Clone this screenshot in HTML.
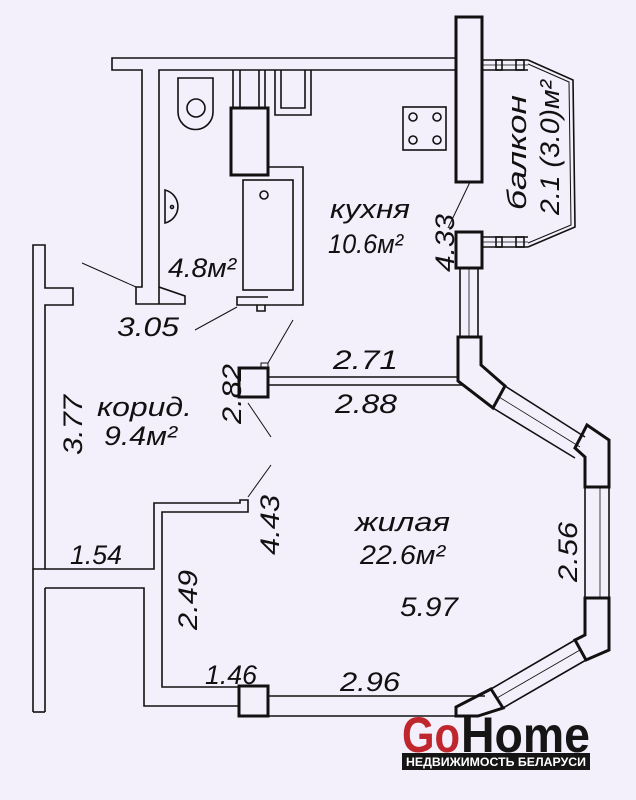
<!DOCTYPE html>
<html><head><meta charset="utf-8"><style>
html,body{margin:0;padding:0;background:#f3f0fb;}
svg{display:block}
text{font-family:"Liberation Sans",sans-serif;font-style:italic;fill:#111;}
</style></head><body>
<svg width="636" height="800" viewBox="0 0 636 800" xmlns="http://www.w3.org/2000/svg">
<rect width="636" height="800" fill="#f3f0fb"/>
<g fill="none" stroke="#111" stroke-width="1.6">
<polygon points="112,58 456,58 456,70 159,70 159,287 185,296 185,304 136,304 136,287 142,287 142,70 112,70" fill="#f3f0fb"/>
<line x1="159" y1="287" x2="159" y2="304"/>
<line x1="482" y1="60" x2="528" y2="60"/><line x1="482" y1="70" x2="528" y2="70"/><line x1="482" y1="65" x2="528" y2="65" stroke-width="0.8"/>
<rect x="496" y="60" width="6" height="10"/><rect x="516" y="60" width="8" height="10"/>
<line x1="482" y1="237" x2="528" y2="237"/><line x1="482" y1="247" x2="528" y2="247"/><line x1="482" y1="242" x2="528" y2="242" stroke-width="0.8"/>
<rect x="496" y="237" width="6" height="10"/><rect x="516" y="237" width="8" height="10"/>
<polyline points="528,60 573,80 575,227 528,247"/>
<polyline points="528,64 569,82 571,225 528,243" stroke-width="1"/>
<line x1="233" y1="70" x2="233" y2="108"/><line x1="240" y1="70" x2="240" y2="108"/>
<line x1="259" y1="70" x2="259" y2="108"/><line x1="265" y1="70" x2="265" y2="108"/>
<path d="M275,70 V115 H311 V70 M281,70 V108 H305 V70"/>
<path d="M178,78 H213 V112 A17,17 0 0 1 178,112 Z"/>
<circle cx="196" cy="108" r="9"/>
<path d="M165,190 A17,17 0 0 1 165,223 Z"/><circle cx="172" cy="207" r="1.5"/>
<rect x="403" y="107" width="43" height="43"/>
<circle cx="413" cy="117" r="4"/><circle cx="437" cy="117" r="4"/><circle cx="413" cy="140" r="4"/><circle cx="437" cy="140" r="4"/>
<path d="M268,167 H303 V305 H237 V297 H268"/>
<rect x="243" y="180" width="50" height="110"/>
<circle cx="264" cy="195" r="4"/>
<path d="M257,305 V311 H265 V305"/>
<rect x="231" y="108" width="37" height="67" stroke-width="3"/>
<rect x="456" y="17" width="26" height="165" stroke-width="3"/>
<rect x="456" y="232" width="26" height="36" stroke-width="3"/>
<line x1="460" y1="268" x2="460" y2="337"/><line x1="478" y1="268" x2="478" y2="337"/><line x1="469" y1="268" x2="469" y2="337" stroke-width="0.8"/>
<polygon points="33,245 45,245 45,288 73,288 73,305 45,305 45,569 33,569"/>
<line x1="33" y1="569" x2="33" y2="712"/><line x1="45" y1="588" x2="45" y2="712"/><line x1="33" y1="712" x2="45" y2="712"/>
<polyline points="45,569 154,569 154,503 240,503 240,500 248,500 248,512 162,512 162,687 239,687"/>
<polyline points="45,588 144,588 144,706 239,706"/>
<line x1="82" y1="263" x2="136" y2="287" stroke-width="1"/>
<line x1="195" y1="330" x2="237" y2="307" stroke-width="1"/>
<rect x="239" y="368" width="29" height="29" stroke-width="3"/>
<rect x="261" y="363" width="7" height="5" stroke-width="1"/>
<line x1="268" y1="377" x2="458" y2="377"/><line x1="268" y1="385" x2="462" y2="385"/>
<line x1="268" y1="363" x2="293" y2="320" stroke-width="1"/>
<line x1="248" y1="403" x2="271" y2="437" stroke-width="1"/>
<line x1="248" y1="497" x2="271" y2="465" stroke-width="1"/>
<path d="M460,337 H481 V365 L505,386 L493,408 L458,381 V337 Z" stroke-width="3"/>
<line x1="505" y1="386" x2="585" y2="437"/><line x1="493" y1="408" x2="575" y2="458"/><line x1="499" y1="397" x2="580" y2="447" stroke-width="0.8"/>
<path d="M587,425 L609,440 V487 H585 V457 L575,448 Z" stroke-width="3"/>
<line x1="585" y1="487" x2="585" y2="598"/><line x1="609" y1="487" x2="609" y2="598"/><line x1="600" y1="487" x2="600" y2="598" stroke-width="0.8"/>
<path d="M585,598 H609 V650 L586,660 L575,640 L585,635 Z" stroke-width="3"/>
<line x1="575" y1="640" x2="491" y2="689"/><line x1="586" y1="660" x2="503" y2="708"/><line x1="580" y1="650" x2="497" y2="698" stroke-width="0.8"/>
<path d="M491,689 L503,708 L478,716 H456 V707 Z" stroke-width="3"/>
<line x1="268" y1="696" x2="485" y2="696"/><line x1="268" y1="716" x2="460" y2="716"/>
<rect x="239" y="686" width="29" height="30" stroke-width="3"/>
<line x1="448" y1="228" x2="470" y2="182" stroke-width="1"/>
</g>
<g font-size="27">
<text x="330" y="218" textLength="80" lengthAdjust="spacingAndGlyphs">кухня</text>
<text x="328" y="253" textLength="75" lengthAdjust="spacingAndGlyphs">10.6м²</text>
<text x="168" y="277" textLength="68" lengthAdjust="spacingAndGlyphs">4.8м²</text>
<text x="117" y="336" textLength="62" lengthAdjust="spacingAndGlyphs">3.05</text>
<text x="333" y="369" textLength="65" lengthAdjust="spacingAndGlyphs">2.71</text>
<text x="335" y="413" textLength="62" lengthAdjust="spacingAndGlyphs">2.88</text>
<text x="97" y="416" textLength="95" lengthAdjust="spacingAndGlyphs">корид.</text>
<text x="104" y="445" textLength="73" lengthAdjust="spacingAndGlyphs">9.4м²</text>
<text x="355" y="531" textLength="95" lengthAdjust="spacingAndGlyphs">жилая</text>
<text x="360" y="564" textLength="85" lengthAdjust="spacingAndGlyphs">22.6м²</text>
<text x="70" y="564" textLength="52" lengthAdjust="spacingAndGlyphs">1.54</text>
<text x="400" y="616" textLength="58" lengthAdjust="spacingAndGlyphs">5.97</text>
<text x="205" y="684" textLength="52" lengthAdjust="spacingAndGlyphs">1.46</text>
<text x="340" y="691" textLength="60" lengthAdjust="spacingAndGlyphs">2.96</text>
<text transform="translate(526,210) rotate(-90)" textLength="115" lengthAdjust="spacingAndGlyphs">балкон</text>
<text transform="translate(559,215) rotate(-90)" textLength="135" lengthAdjust="spacingAndGlyphs">2.1 (3.0)м²</text>
<text transform="translate(454,272) rotate(-90)" textLength="58" lengthAdjust="spacingAndGlyphs">4.33</text>
<text transform="translate(82,455) rotate(-90)" textLength="60" lengthAdjust="spacingAndGlyphs">3.77</text>
<text transform="translate(241,424) rotate(-90)" textLength="60" lengthAdjust="spacingAndGlyphs">2.82</text>
<text transform="translate(279,555) rotate(-90)" textLength="60" lengthAdjust="spacingAndGlyphs">4.43</text>
<text transform="translate(577,582) rotate(-90)" textLength="60" lengthAdjust="spacingAndGlyphs">2.56</text>
<text transform="translate(197,630) rotate(-90)" textLength="60" lengthAdjust="spacingAndGlyphs">2.49</text>
</g>
<g>
<text x="402" y="752" font-size="50" font-weight="bold" style="font-style:normal;fill:#c0262d" textLength="58" lengthAdjust="spacingAndGlyphs">Go</text>
<text x="461" y="752" font-size="50" font-weight="bold" style="font-style:normal;fill:#151515" textLength="129" lengthAdjust="spacingAndGlyphs">Home</text>
<rect x="402" y="753" width="188" height="17" fill="#151515"/>
<text x="496" y="766" font-size="11.5" font-weight="bold" text-anchor="middle" style="font-style:normal;fill:#fff" textLength="180" lengthAdjust="spacingAndGlyphs">НЕДВИЖИМОСТЬ БЕЛАРУСИ</text>
</g>
</svg>
</body></html>
